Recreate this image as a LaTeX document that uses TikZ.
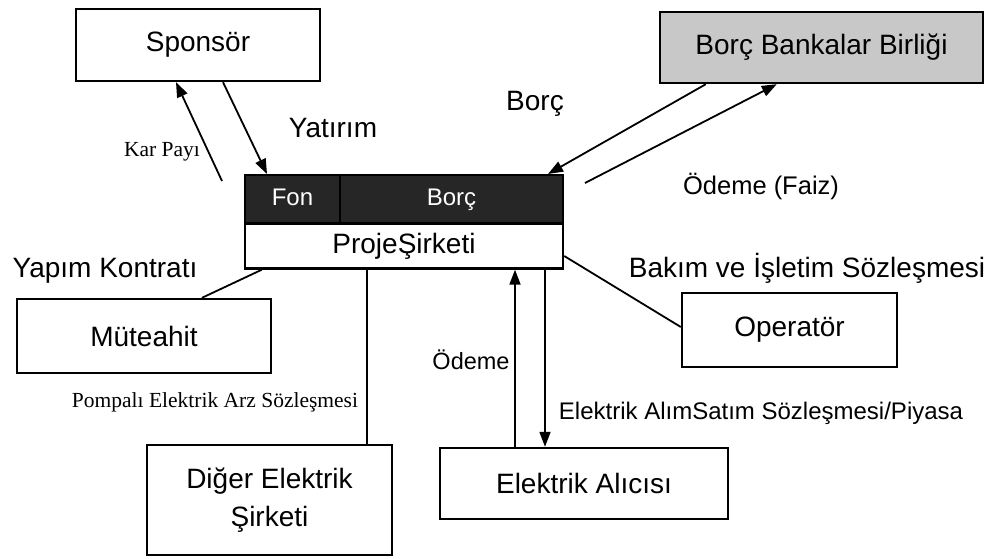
\documentclass[tikz,border=0pt]{standalone}
\usepackage{fontspec}
\setmainfont{Liberation Sans}
\newfontfamily\serifa{Liberation Serif}
\usepackage{tikz}
\usetikzlibrary{arrows.meta,positioning,calc}
\definecolor{fondark}{HTML}{262626}
\definecolor{bankgray}{HTML}{C8C8C8}

\begin{document}
\begin{tikzpicture}[x=1pt, y=-1pt,
    partybox/.style={draw, line width=2.4pt, inner sep=0pt, align=center, font=\fontsize{28}{38}\selectfont},
    darkcell/.style={draw, line width=2pt, fill=fondark, inner sep=0pt, text height=17pt, text depth=5pt, text=white, font=\fontsize{24}{28}\selectfont},
    arrow/.style={-{Triangle[length=15pt, width=11pt]}, line width=1.8pt},
    link/.style={line width=1.8pt},
    biglabel/.style={font=\fontsize{28}{32}\selectfont},
    midlabel/.style={font=\fontsize{24}{28}\selectfont},
    serlabel/.style={font=\serifa\fontsize{21.5}{24}\selectfont},
]
    \useasboundingbox (0,0) rectangle (990,559);

    \node[partybox, minimum width=244pt, minimum height=72pt] (spon) at (198,45) {Sponsör};
    \node[partybox, fill=bankgray, minimum width=323pt, minimum height=71pt] (bank) at (821.5,47.5) {Borç Bankalar Birliği};
    \node[darkcell, minimum width=95pt, minimum height=48pt] (fon) at (292.5,199) {Fon};
    \node[darkcell, minimum width=223pt, minimum height=48pt] (borc) at (451.5,199) {Borç};
    \node[partybox, minimum width=318pt, minimum height=45pt] (proje) at (404,246) {ProjeŞirketi};
    \node[partybox, minimum width=254pt, minimum height=74pt] (mut) at (144,336) {Müteahit};
    \node[partybox, minimum width=215pt, minimum height=74pt] (op) at (789.5,330) {Operatör};
    \node[partybox, minimum width=245pt, minimum height=110pt] (dig) at (269.5,500) {Diğer Elektrik\\Şirketi};
    \node[partybox, minimum width=288pt, minimum height=71pt] (alici) at (584,483.5) {Elektrik Alıcısı};

    \coordinate (kar) at (222,181);
    \coordinate (faiz) at (585,183);

    \draw[arrow] ([xshift=25pt]spon.south) -- ([xshift=23pt]fon.north west);
    \draw[arrow] (kar) -- ([xshift=-22pt]spon.south);
    \draw[arrow] ([xshift=47pt]bank.south west) -- ([xshift=-16pt]borc.north east);
    \draw[arrow] (faiz) -- ([xshift=118pt]bank.south west);
    \draw[link] ([xshift=58pt]mut.north) -- ([xshift=18pt]proje.south west);
    \draw[link] ([xshift=123pt]proje.south west) coordinate (pp) -- (pp |- dig.north);
    \draw[arrow] ([xshift=-69pt]alici.north) coordinate (pa) -- (pa |- proje.south);
    \draw[arrow] ([xshift=-39pt]alici.north |- proje.south) coordinate (pb) -- (pb |- alici.north);
    \draw[link] ([yshift=-10pt]proje.east) -- ([yshift=3pt]op.west);

    \node[biglabel] (lyat) at (333,128) {Yatırım};
    \node[serlabel] (lkar) at (162,152) {Kar Payı};
    \node[biglabel] (lborc) at (535,104) {Borç};
    \node[font=\fontsize{25.5}{30}\selectfont] (lfaiz) at (761,186) {Ödeme (Faiz)};
    \node[biglabel] (lyap) at (105,271) {Yapım Kontratı};
    \node[biglabel] (lbak) at (807,268) {Bakım ve İşletim Sözleşmesi};
    \node[serlabel] (lpom) at (215,402) {Pompalı Elektrik Arz Sözleşmesi};
    \node[font=\fontsize{23.5}{27}\selectfont] (lode) at (471,360) {Ödeme};
    \node[midlabel] (lals) at (761,413) {Elektrik AlımSatım Sözleşmesi/Piyasa};
\end{tikzpicture}
\end{document}
